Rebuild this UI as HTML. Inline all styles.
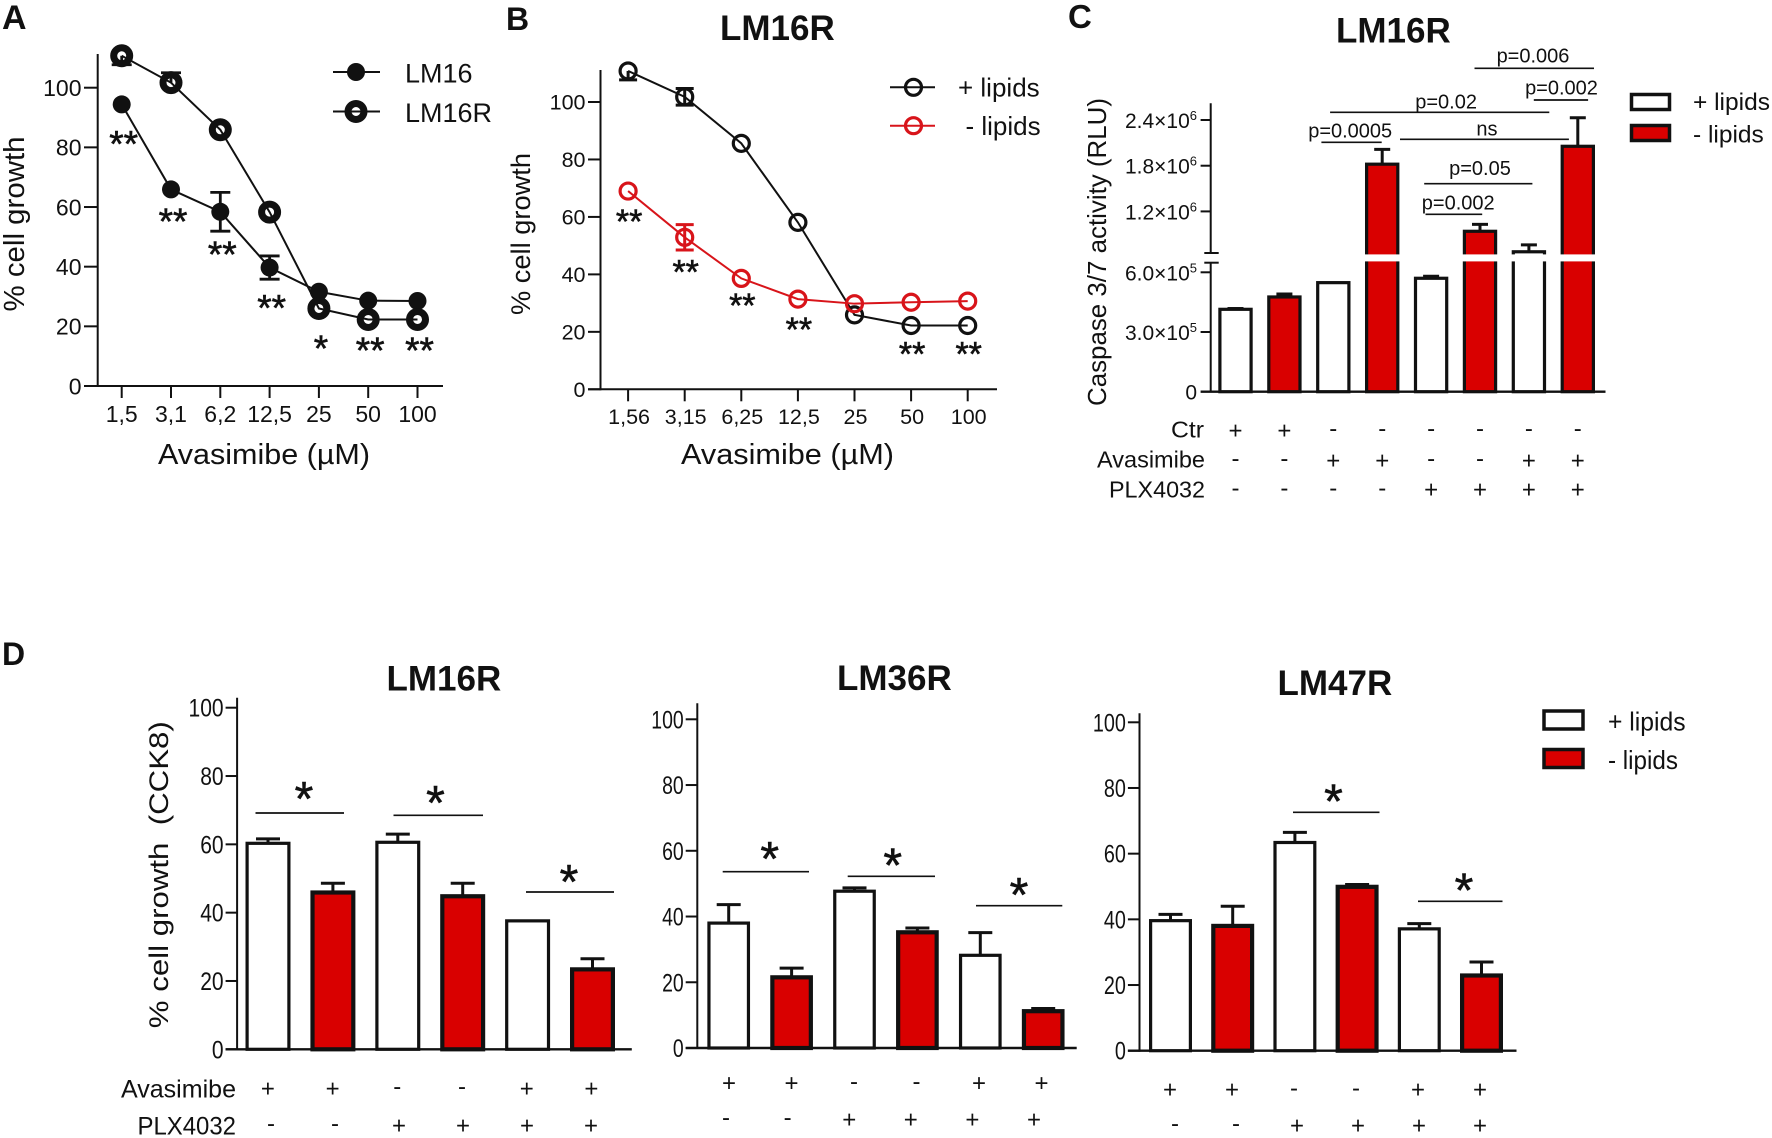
<!DOCTYPE html>
<html lang="en">
<head>
<meta charset="utf-8">
<title>Avasimibe and lipid depletion figure</title>
<style>
  html, body { margin: 0; padding: 0; background: #fff; }
  svg { display: block; }
  text { font-family: "Liberation Sans", sans-serif; fill: #111; white-space: pre; }
  .brk { stroke: #111; stroke-width: 1.7; }
  .star { stroke: #111; stroke-width: 0.6; }
</style>
</head>
<body>
<svg id="figure" xmlns="http://www.w3.org/2000/svg" width="1772" height="1138" viewBox="0 0 1772 1138">
  <rect x="0" y="0" width="1772" height="1138" fill="#ffffff"/>

  <!-- Panel A -->
  <g id="panel-a">
    <text x="2" y="29" font-size="34" font-weight="bold">A</text>
    <text transform="translate(24,224) rotate(-90)" text-anchor="middle" font-size="29" textLength="175" lengthAdjust="spacingAndGlyphs">% cell growth</text>
    <text x="158" y="464" font-size="29" textLength="212" lengthAdjust="spacingAndGlyphs">Avasimibe (µM)</text>
    <g>
      <line x1="333" y1="72" x2="380" y2="72" stroke="#111" stroke-width="2"/>
      <circle cx="356" cy="72" r="9" fill="#111"/>
      <text x="405" y="82.7" font-size="27">LM16</text>
      <line x1="333" y1="111.5" x2="380" y2="111.5" stroke="#111" stroke-width="2"/>
      <circle cx="356" cy="111.5" r="8" fill="none" stroke="#111" stroke-width="7"/>
      <text x="405" y="122" font-size="27">LM16R</text>
    </g>
  </g>

  <!-- Panel B -->
  <g id="panel-b">
    <text x="506" y="30" font-size="32" font-weight="bold">B</text>
    <text x="720" y="40" font-size="35" font-weight="bold">LM16R</text>
    <text transform="translate(530,234) rotate(-90)" text-anchor="middle" font-size="27" textLength="162" lengthAdjust="spacingAndGlyphs">% cell growth</text>
    <text x="681" y="464" font-size="29" textLength="213" lengthAdjust="spacingAndGlyphs">Avasimibe (µM)</text>
    <g>
      <line x1="890" y1="87.3" x2="935" y2="87.3" stroke="#111" stroke-width="2"/>
      <circle cx="913.5" cy="87.3" r="8" fill="none" stroke="#111" stroke-width="3.2"/>
      <text x="958" y="96.7" font-size="26">+ lipids</text>
      <line x1="890" y1="125.7" x2="935" y2="125.7" stroke="#d8141a" stroke-width="2"/>
      <circle cx="913.5" cy="125.7" r="8" fill="none" stroke="#d8141a" stroke-width="3.2"/>
      <text x="965.5" y="135" font-size="26">- lipids</text>
    </g>
  </g>

  <!-- Panel C -->
  <g id="panel-c">
    <text x="1068" y="28" font-size="33" font-weight="bold">C</text>
    <text x="1336" y="42.7" font-size="35" font-weight="bold">LM16R</text>
    <text transform="translate(1106,252) rotate(-90)" text-anchor="middle" font-size="26" textLength="308" lengthAdjust="spacingAndGlyphs">Caspase 3/7 activity (RLU)</text>
    <g>
      <text x="1204" y="437.7" font-size="23.5" text-anchor="end" textLength="33" lengthAdjust="spacingAndGlyphs">Ctr</text>
      <text x="1205" y="467.7" font-size="23.5" text-anchor="end">Avasimibe</text>
      <text x="1205" y="497.3" font-size="23.5" text-anchor="end" textLength="96" lengthAdjust="spacingAndGlyphs">PLX4032</text>
    </g>
    <g id="c-annotations" transform="translate(-2.5,0)">
      <line class="brk" x1="1477" y1="68.3" x2="1596.5" y2="68.3"/>
      <text x="1535.5" y="62.7" font-size="20" text-anchor="middle">p=0.006</text>
      <line class="brk" x1="1536.3" y1="100" x2="1590.6" y2="100"/>
      <text x="1564" y="94.3" font-size="20" text-anchor="middle">p=0.002</text>
      <line class="brk" x1="1332.6" y1="112.3" x2="1551.8" y2="112.3"/>
      <text x="1448.6" y="108.3" font-size="20" text-anchor="middle">p=0.02</text>
      <line class="brk" x1="1323.9" y1="142.3" x2="1384.2" y2="142.3"/>
      <text x="1352.7" y="137.3" font-size="20" text-anchor="middle">p=0.0005</text>
      <line class="brk" x1="1402.5" y1="139.3" x2="1571.4" y2="139.3"/>
      <text x="1489.4" y="135.7" font-size="20" text-anchor="middle">ns</text>
      <line class="brk" x1="1426.7" y1="183.7" x2="1534.9" y2="183.7"/>
      <text x="1482.5" y="175" font-size="20" text-anchor="middle">p=0.05</text>
      <line class="brk" x1="1428" y1="214.3" x2="1484.7" y2="214.3"/>
      <text x="1460.7" y="209.3" font-size="20" text-anchor="middle">p=0.002</text>
    </g>
    <g>
      <rect x="1631.5" y="94.5" width="38" height="15" fill="#fff" stroke="#111" stroke-width="3.5"/>
      <text x="1693" y="110" font-size="24.5">+ lipids</text>
      <rect x="1631.5" y="125.5" width="38" height="15" fill="#d90000" stroke="#111" stroke-width="3.5"/>
      <text x="1693" y="142.7" font-size="24.5">- lipids</text>
    </g>
  </g>

  <!-- Panel D -->
  <g id="panel-d">
    <text x="2" y="665" font-size="32" font-weight="bold">D</text>
    <g id="d16">
      <text x="386.5" y="690.7" font-size="35" font-weight="bold">LM16R</text>
      <text transform="translate(168,874.7) rotate(-90)" text-anchor="middle" font-size="27" textLength="307" lengthAdjust="spacingAndGlyphs">% cell growth  (CCK8)</text>
      <text x="236" y="1097.7" font-size="25" text-anchor="end" textLength="115" lengthAdjust="spacingAndGlyphs">Avasimibe</text>
      <text x="236" y="1134.3" font-size="25" text-anchor="end" textLength="98.5" lengthAdjust="spacingAndGlyphs">PLX4032</text>
      <line class="brk" x1="255.5" y1="813" x2="344" y2="813"/>
      <text class="star" x="304" y="815" font-size="48" text-anchor="middle">*</text>
      <line class="brk" x1="393.5" y1="815.3" x2="483" y2="815.3"/>
      <text class="star" x="435.5" y="819" font-size="48" text-anchor="middle">*</text>
      <line class="brk" x1="526" y1="892" x2="614" y2="892"/>
      <text class="star" x="569" y="898" font-size="48" text-anchor="middle">*</text>
    </g>
    <g id="d36">
      <text x="837" y="690" font-size="35" font-weight="bold">LM36R</text>
      <line class="brk" x1="722.7" y1="871.7" x2="809" y2="871.7"/>
      <text class="star" x="769.7" y="875" font-size="48" text-anchor="middle">*</text>
      <line class="brk" x1="847.7" y1="876.3" x2="935" y2="876.3"/>
      <text class="star" x="892.7" y="881.5" font-size="48" text-anchor="middle">*</text>
      <line class="brk" x1="976" y1="905.7" x2="1062.3" y2="905.7"/>
      <text class="star" x="1019" y="911" font-size="48" text-anchor="middle">*</text>
    </g>
    <g id="d47">
      <text x="1277.5" y="695" font-size="35" font-weight="bold">LM47R</text>
      <line class="brk" x1="1293" y1="812.3" x2="1379.5" y2="812.3"/>
      <text class="star" x="1333.5" y="817.5" font-size="48" text-anchor="middle">*</text>
      <line class="brk" x1="1418" y1="901.3" x2="1502.5" y2="901.3"/>
      <text class="star" x="1464" y="906.5" font-size="48" text-anchor="middle">*</text>
    </g>
    <g>
      <rect x="1544" y="711" width="39" height="18" fill="#fff" stroke="#111" stroke-width="3.5"/>
      <text x="1608" y="730.7" font-size="26" textLength="77.6" lengthAdjust="spacingAndGlyphs">+ lipids</text>
      <rect x="1544" y="749.5" width="39" height="18" fill="#d90000" stroke="#111" stroke-width="3.5"/>
      <text x="1608" y="769" font-size="26" textLength="70" lengthAdjust="spacingAndGlyphs">- lipids</text>
    </g>
  </g>
</svg>

<script>
// ---------- Panel A data ----------
const aCategories = ['1,5', '3,1', '6,2', '12,5', '25', '50', '100'];
const aTicks = [0, 20, 40, 60, 80, 100];
const aLM16 = [94.4, 65.9, 58.4, 39.7, 31.6, 28.6, 28.5];
const aLM16ErrUp = [0, 0, 6.5, 3.9, 0, 0, 0];
const aLM16ErrDown = [0, 0, 6.5, 3.9, 0, 0, 0];
const aLM16R = [110.7, 101.7, 85.9, 58.3, 26, 22.3, 22.3];
const aLM16RErrUp = [0, 3.3, 0, 0, 0, 0, 0];
const aLM16RErrDown = [3.0, 0, 0, 0, 0, 0, 0];
const aSigLabels = ['**', '**', '**', '**', '*', '**', '**'];
const aSigLevels = [84, 58.1, 46.9, 29.1, 15.4, 14.8, 14.8];

// ---------- Panel B data ----------
const bCategories = ['1,56', '3,15', '6,25', '12,5', '25', '50', '100'];
const bTicks = [0, 20, 40, 60, 80, 100];
const bPlusLipids = [110.8, 101.8, 85.6, 58.1, 25.9, 22.2, 22.2];
const bPlusLipidsErrUp = [0, 2.9, 0, 0, 0, 0, 0];
const bPlusLipidsErrDown = [3.1, 2.9, 0, 0, 0, 0, 0];
const bMinusLipids = [69, 52.9, 38.6, 31.4, 29.8, 30.3, 30.7];
const bMinusLipidsErrUp = [0, 4.4, 0, 0, 0, 0, 0];
const bMinusLipidsErrDown = [0, 4.4, 0, 0, 0, 0, 0];
const bSigLabels = ['**', '**', '**', '**', '', '**', '**'];
const bSigLevels = [61.1, 43.5, 31.9, 23.5, 0, 15.1, 15.1];

// ---------- Panel C data ----------
const cValues = [414000, 476000, 548000, 1820000, 570000, 939000, 670000, 2055000];
const cErrors = [4000, 15000, 0, 195000, 10000, 91000, 90000, 375000];
const cTicks = [0, 300000, 600000, 1200000, 1800000, 2400000];
const cTickLabels = ['0', '3.0×10', '6.0×10', '1.2×10', '1.8×10', '2.4×10'];
const cTickExponents = ['', '5', '5', '6', '6', '6'];
const cRowCtr = ['+', '+', '-', '-', '-', '-', '-', '-'];
const cRowAvasimibe = ['-', '-', '+', '+', '-', '-', '+', '+'];
const cRowPlx = ['-', '-', '-', '-', '+', '+', '+', '+'];

// ---------- Panel D data ----------
const dTicks = [0, 20, 40, 60, 80, 100];
const dRowAvasimibe = ['+', '+', '-', '-', '+', '+'];
const dRowPlx = ['-', '-', '+', '+', '+', '+'];
const d16Values = [60.3, 45.9, 60.6, 44.8, 37.6, 23.4];
const d16Errors = [1.3, 2.7, 2.4, 3.8, 0, 3.1];
const d36Values = [38, 21.5, 47.7, 35.2, 28.2, 11.2];
const d36Errors = [5.6, 2.8, 1, 1.3, 6.9, 0.8];
const d47Values = [39.6, 38, 63.4, 49.9, 37.1, 22.9];
const d47Errors = [1.9, 6, 3.1, 0.7, 1.6, 4.1];

// ---------- Helpers ----------
const SVGNS = 'http://www.w3.org/2000/svg';
const INK = '#111111';
const RED = '#d90000';
const RED_LINE = '#d8141a';

function make(tag, parent, attrs) {
  const el = document.createElementNS(SVGNS, tag);
  for (const k in attrs) el.setAttribute(k, attrs[k]);
  parent.appendChild(el);
  return el;
}
function linearScale(d0, d1, r0, r1) {
  return function (v) { return r0 + (v - d0) * (r1 - r0) / (d1 - d0); };
}
function bandScale(x0, step) {
  return function (i) { return x0 + i * step; };
}
function drawLine(parent, name, x1, y1, x2, y2, color, width) {
  const el = make('line', parent, { x1: x1, y1: y1, x2: x2, y2: y2, stroke: color, 'stroke-width': width });
  
  
  return el;
}
function drawText(parent, name, str, x, y, size, anchor, len) {
  const el = make('text', parent, { x: x, y: y, 'font-size': size, 'text-anchor': anchor });
  if (len) {
    el.setAttribute('textLength', len);
    el.setAttribute('lengthAdjust', 'spacingAndGlyphs');
  }
  el.textContent = str;
  
  
  return el;
}
function drawGroup(parent, name) {
  const el = make('g', parent, {});
  
  
  return el;
}

// ---------- Line charts ----------
function drawSeries(parent, name, xOf, yOf, values, errUp, errDown, style) {
  const g = drawGroup(parent, name);
  const d = values.map(function (v, i) { return (i ? 'L' : 'M') + xOf(i) + ' ' + yOf(v); }).join(' ');
  const path = make('path', g, { d: d, fill: 'none', stroke: style.color, 'stroke-width': style.lineWidth });
  
  
  values.forEach(function (v, i) {
    if (errUp[i]) {
      const hi = yOf(v + errUp[i]);
      drawLine(g, name + '-error-stem-up-' + i, xOf(i), yOf(v), xOf(i), hi, style.color, style.errWidth);
      drawLine(g, name + '-error-cap-top-' + i, xOf(i) - style.capHalf, hi, xOf(i) + style.capHalf, hi, style.color, style.errWidth);
    }
    if (errDown[i]) {
      const lo = yOf(v - errDown[i]);
      drawLine(g, name + '-error-stem-down-' + i, xOf(i), yOf(v), xOf(i), lo, style.color, style.errWidth);
      drawLine(g, name + '-error-cap-bottom-' + i, xOf(i) - style.capHalf, lo, xOf(i) + style.capHalf, lo, style.color, style.errWidth);
    }
    const pt = make('circle', g, {
      cx: xOf(i), cy: yOf(v), r: style.r,
      fill: style.filled ? style.color : 'none',
      stroke: style.filled ? 'none' : style.color,
      'stroke-width': style.filled ? 0 : style.markerStroke
    });
    
    
  });
}
function drawLineAxes(g, prefix, yOf, xOf, ticks, categories, o) {
  drawLine(g, prefix + '-y-axis', o.axisX, o.axisTop, o.axisX, o.y0 + 1, INK, 2);
  drawLine(g, prefix + '-x-axis', o.xStart, o.y0, o.xEnd, o.y0, INK, 2);
  ticks.forEach(function (t) {
    drawLine(g, prefix + '-y-tick-' + t, o.xStart, yOf(t), o.axisX, yOf(t), INK, 2);
    drawText(g, prefix + '-y-tick-label-' + t, String(t), o.xStart - 2.5, yOf(t) + o.fontSize * 0.36, o.fontSize, 'end');
  });
  categories.forEach(function (c, i) {
    drawLine(g, prefix + '-x-tick-' + i, xOf(i), o.y0, xOf(i), o.y0 + 12, INK, 2);
    drawText(g, prefix + '-x-tick-label-' + i, c, xOf(i) + o.labelShift, o.labelY, o.fontSize, 'middle');
  });
}
function drawSigLabels(g, prefix, labels, levels, xOf, yOf, size, shift) {
  labels.forEach(function (s, i) {
    if (!s) return;
    const el = drawText(g, prefix + '-significance-' + i, s, xOf(i) + shift, yOf(levels[i]) + size * 0.57, size, 'middle');
    el.setAttribute('class', 'star');
  });
}

// Panel A
const aG = document.getElementById('panel-a');
const aY = linearScale(0, 100, 386, 87.7);
const aX = bandScale(121.7, 49.3);
drawLineAxes(aG, 'a', aY, aX, aTicks, aCategories, { axisX: 97.7, axisTop: 54, y0: 386, xStart: 84, xEnd: 443, fontSize: 23, labelY: 422, labelShift: 0 });
drawSeries(aG, 'a-series-lm16', aX, aY, aLM16, aLM16ErrUp, aLM16ErrDown, { color: INK, lineWidth: 2, errWidth: 2.8, capHalf: 10, r: 9, filled: true });
drawSeries(aG, 'a-series-lm16r', aX, aY, aLM16R, aLM16RErrUp, aLM16RErrDown, { color: INK, lineWidth: 2, errWidth: 2.8, capHalf: 10, r: 8, filled: false, markerStroke: 7 });
drawSigLabels(aG, 'a', aSigLabels, aSigLevels, aX, aY, 37, 2);

// Panel B
const bG = document.getElementById('panel-b');
const bY = linearScale(0, 100, 389.3, 102);
const bX = bandScale(628.1, 56.6);
drawLineAxes(bG, 'b', bY, bX, bTicks, bCategories, { axisX: 600.5, axisTop: 70, y0: 389.3, xStart: 588, xEnd: 997, fontSize: 21.5, labelY: 424, labelShift: 1 });
drawSeries(bG, 'b-series-plus-lipids', bX, bY, bPlusLipids, bPlusLipidsErrUp, bPlusLipidsErrDown, { color: INK, lineWidth: 2, errWidth: 3, capHalf: 9, r: 8, filled: false, markerStroke: 3.2 });
drawSeries(bG, 'b-series-minus-lipids', bX, bY, bMinusLipids, bMinusLipidsErrUp, bMinusLipidsErrDown, { color: RED_LINE, lineWidth: 2, errWidth: 3, capHalf: 9, r: 8, filled: false, markerStroke: 3.2 });
drawSigLabels(bG, 'b', bSigLabels, bSigLevels, bX, bY, 34, 1);

// ---------- Bar charts ----------
function drawBars(parent, prefix, values, errors, xOf, yOf, y0, o) {
  values.forEach(function (v, i) {
    const isRed = i % 2 === 1;
    const sw = isRed ? o.redStroke : o.whiteStroke;
    const cx = xOf(i);
    const g = drawGroup(parent, prefix + '-bar-group-' + i);
    const top = yOf(v);
    if (errors[i]) {
      const cap = yOf(v + errors[i]);
      drawLine(g, prefix + '-bar-error-stem-' + i, cx, top, cx, cap, INK, o.errWidth);
      drawLine(g, prefix + '-bar-error-cap-' + i, cx - o.capHalf, cap, cx + o.capHalf, cap, INK, o.errWidth);
    }
    const bar = make('rect', g, {
      x: cx - o.barWidth / 2 + sw / 2, y: top,
      width: o.barWidth - sw, height: y0 - top,
      fill: isRed ? RED : '#ffffff', stroke: INK, 'stroke-width': sw
    });
    
    
  });
}
function drawSymbolRow(parent, prefix, symbols, xOf, cy, size) {
  symbols.forEach(function (s, i) {
    const baseline = cy + size * (s === '+' ? 0.35 : 0.28);
    drawText(parent, prefix + '-symbol-' + i, s, xOf(i), baseline, size, 'middle');
  });
}

// Panel C (broken y axis at 6.5e5)
const cG = document.getElementById('panel-c');
const cYLow = linearScale(0, 300000, 391.7, 332);
const cYHigh = linearScale(650000, 1250000, 253.3, 207.6);
const cBreak = 650000;
function cY(v) { return v <= cBreak ? cYLow(v) : cYHigh(v); }
const cX = bandScale(1235.5, 48.9);
const cBarsG = drawGroup(cG, 'c-bars');
drawBars(cBarsG, 'c', cValues, cErrors, cX, cY, 391.7, { barWidth: 34.4, whiteStroke: 3.2, redStroke: 3.2, errWidth: 3, capHalf: 8 });
const cGap = make('rect', cG, { x: 1213, y: 254.4, width: 400, height: 7, fill: '#ffffff' });


drawLine(cG, 'c-y-axis-upper', 1210.7, 103.3, 1210.7, 253, INK, 2);
drawLine(cG, 'c-y-axis-lower', 1210.7, 262.7, 1210.7, 392, INK, 2);
drawLine(cG, 'c-axis-break-stub-upper', 1204.3, 253, 1218.7, 253, INK, 2);
drawLine(cG, 'c-axis-break-stub-lower', 1204.3, 262.7, 1218.7, 262.7, INK, 2);
drawLine(cG, 'c-x-axis', 1200.6, 391.7, 1605.5, 391.7, INK, 2.4);
cTicks.forEach(function (t, i) {
  if (t > 0) drawLine(cG, 'c-y-tick-' + i, 1200.6, cY(t), 1210.7, cY(t), INK, 2);
  const label = drawText(cG, 'c-y-tick-label-' + i, cTickLabels[i], 1197, cY(t) + 8, 21, 'end');
  if (cTickExponents[i]) {
    const sup = make('tspan', label, { dy: -8, 'font-size': 13 });
    sup.textContent = cTickExponents[i];
    
    
  }
});
drawSymbolRow(cG, 'c-row-ctr', cRowCtr, cX, 430, 24);
drawSymbolRow(cG, 'c-row-avasimibe', cRowAvasimibe, cX, 460, 24);
drawSymbolRow(cG, 'c-row-plx', cRowPlx, cX, 489.3, 24);

// Panel D
function drawDChart(id, prefix, values, errors, o) {
  const g = document.getElementById(id);
  const yOf = linearScale(0, 100, o.y0, o.y100);
  const xOf = bandScale(o.x0, o.step);
  drawBars(g, prefix, values, errors, xOf, yOf, o.y0, { barWidth: o.barWidth, whiteStroke: 3.2, redStroke: 4.2, errWidth: 3, capHalf: 12 });
  drawLine(g, prefix + '-y-axis', o.axisX, o.axisTop, o.axisX, o.y0 + 1, INK, 2);
  drawLine(g, prefix + '-x-axis', o.xStart, o.y0, o.xEnd, o.y0, INK, 2.4);
  dTicks.forEach(function (t) {
    drawLine(g, prefix + '-y-tick-' + t, o.xStart, yOf(t), o.axisX, yOf(t), INK, 2);
    const wide = String(t).length;
    drawText(g, prefix + '-y-tick-label-' + t, String(t), o.xStart - 2, yOf(t) + 9, 25, 'end', wide * o.digitWidth);
  });
  drawSymbolRow(g, prefix + '-row-avasimibe', dRowAvasimibe, bandScale(o.r1x0, o.r1dx), o.r1y, 24);
  drawSymbolRow(g, prefix + '-row-plx', dRowPlx, bandScale(o.r2x0, o.r2dx), o.r2y, 24);
}
drawDChart('d16', 'd-lm16r', d16Values, d16Errors, {
  y0: 1049.3, y100: 707.7, x0: 268, step: 64.9, barWidth: 45, axisX: 237.1, axisTop: 697.7,
  xStart: 225.6, xEnd: 631.8, digitWidth: 11.7, r1x0: 267.9, r1dx: 64.7, r1y: 1088, r2x0: 271, r2dx: 64, r2y: 1125
});
drawDChart('d36', 'd-lm36r', d36Values, d36Errors, {
  y0: 1048, y100: 719.3, x0: 728.7, step: 62.9, barWidth: 42.7, axisX: 697.3, axisTop: 703.3,
  xStart: 685.7, xEnd: 1076.7, digitWidth: 10.8, r1x0: 729, r1dx: 62.5, r1y: 1082.7, r2x0: 726, r2dx: 61.6, r2y: 1119
});
drawDChart('d47', 'd-lm47r', d47Values, d47Errors, {
  y0: 1050.7, y100: 722.3, x0: 1170.5, step: 62.2, barWidth: 43, axisX: 1139.5, axisTop: 713.3,
  xStart: 1127.9, xEnd: 1516.5, digitWidth: 11, r1x0: 1170, r1dx: 62, r1y: 1089.3, r2x0: 1175, r2dx: 61, r2y: 1125
});
</script>
</body>
</html>
